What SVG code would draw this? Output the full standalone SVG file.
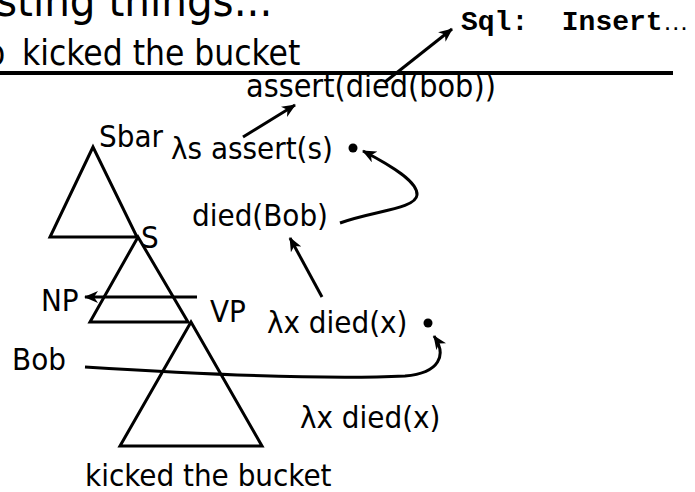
<svg xmlns="http://www.w3.org/2000/svg" width="695" height="492" viewBox="0 0 695 492">
<style>
.t{font-family:"DejaVu Sans Condensed","DejaVu Sans",sans-serif;font-size:31px;fill:#000}
.tri{fill:none;stroke:#000;stroke-width:3;stroke-linejoin:miter}
.c{fill:none;stroke:#000;stroke-width:3}
.sql{font-family:"Liberation Mono","Courier New",monospace;font-weight:bold;font-size:28px;fill:#000}
</style>
<defs>
<marker id="ah" viewBox="0 0 14 12" refX="13" refY="6" markerWidth="14" markerHeight="12" markerUnits="userSpaceOnUse" orient="auto">
<path d="M0,0 L14,6 L0,12 L4,6 z" fill="#000"/>
</marker>
</defs>
<g id="title"><text class="t" x="-4" y="16" style="font-size:45px">sting things...</text></g>
<g id="subtitle"><text class="t" y="65" style="font-size:35px"><tspan x="-14">o</tspan><tspan x="12"> kicked the bucket</tspan></text>
<line x1="0" y1="73" x2="673" y2="73" stroke="#000" stroke-width="4"/></g>
<g id="sql"><text class="sql" x="461" y="30" xml:space="preserve">Sql:  Insert<tspan style="font-family:'Liberation Sans',sans-serif;font-weight:normal;font-size:26px">…</tspan></text></g>
<g id="assert"><text class="t" x="246" y="97" style="font-size:32px">assert(died(bob))</text></g>
<g id="sbar-tri"><polygon class="tri" points="93,147 50,237 137,237"/></g>
<g id="s-tri"><polygon class="tri" points="138,237 90,322 188,322"/></g>
<g id="vp-tri"><polygon class="tri" points="191,322 120,446 262,446"/></g>
<g id="sbar"><text class="t" x="99" y="147">Sbar</text></g>
<g id="lambda-s"><text class="t" x="171" y="159">λs assert(s)</text><circle cx="353" cy="148" r="4.5"/></g>
<g id="s"><text class="t" x="141" y="248">S</text></g>
<g id="diedbob"><text class="t" x="192" y="226">died(Bob)</text></g>
<g id="np"><text class="t" x="41" y="311">NP</text></g>
<g id="vp"><text class="t" x="210" y="322">VP</text></g>
<g id="lambda-x1"><text class="t" x="267" y="333">λx died(x)</text><circle cx="428" cy="323" r="4.5"/></g>
<g id="bob"><text class="t" x="12" y="370">Bob</text></g>
<g id="lambda-x2"><text class="t" x="300" y="428">λx died(x)</text></g>
<g id="kicked"><text class="t" x="85" y="486">kicked the bucket</text></g>
<g id="connectors">
<line class="c" x1="385" y1="82" x2="452" y2="29" marker-end="url(#ah)"/>
<line class="c" x1="243" y1="137" x2="295" y2="105" marker-end="url(#ah)"/>
<path class="c" d="M340,223 C372,211 416,209 417,195 C418,182 392,166 363,151" marker-end="url(#ah)"/>
<line class="c" x1="322" y1="297" x2="290" y2="238" marker-end="url(#ah)"/>
<line class="c" x1="197" y1="297" x2="85" y2="297" marker-end="url(#ah)"/>
<path class="c" d="M85,367 C180,373 320,380 405,376 C440,373 447,355 434,336" marker-end="url(#ah)"/>
</g>
</svg>
